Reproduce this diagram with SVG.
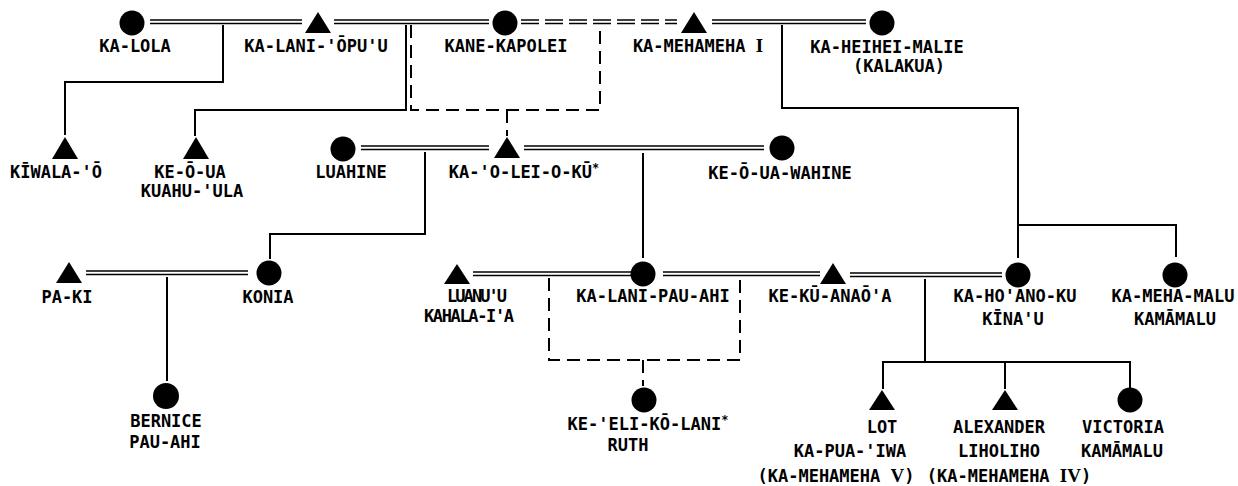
<svg xmlns="http://www.w3.org/2000/svg" width="1238" height="486" viewBox="0 0 1238 486">
<style>
  .t { font-family: "DejaVu Sans Mono", "Liberation Mono", monospace; font-weight: bold; font-size: 17px; fill: #000; text-anchor: middle; }
  .s { font-family: "Liberation Serif", serif; font-weight: bold; font-size: 19px; }
  .sup { font-size: 12px; }
  .sym { fill: #000; }
  .ln { stroke: #000; stroke-width: 2; fill: none; }
  .dl { stroke: #000; stroke-width: 1.6; fill: none; }
  .dd { stroke: #000; stroke-width: 1.6; fill: none; stroke-dasharray: 18 6; }
  .dash { stroke: #000; stroke-width: 2; fill: none; stroke-dasharray: 13 7; }
</style>
<rect width="1238" height="486" fill="#fff"/>
<g id="connectors">
  <path class="dl" d="M150 20H302M150 23.5H302"/>
  <path class="dl" d="M334 20H489M334 23.5H489"/>
  <path class="dd" d="M521 20H677M521 23.5H677"/>
  <path class="dl" d="M712 20H866M712 23.5H866"/>
  <path class="ln" d="M223 25V82H65V135"/>
  <path class="ln" d="M406 25V110H195V136"/>
  <path class="dash" d="M411 25V110H600V25"/>
  <path class="dash" d="M507 110V136"/>
  <path class="ln" d="M782 25V108H1018V258"/>
  <path class="ln" d="M1018 225H1176V257"/>
  <path class="dl" d="M361 146H489M361 149.5H489"/>
  <path class="dl" d="M524 146H764M524 149.5H764"/>
  <path class="ln" d="M425 152V234H270V259"/>
  <path class="ln" d="M643 153V258"/>
  <path class="dl" d="M86 271H248M86 274.5H248"/>
  <path class="dl" d="M473 272H632M473 275.5H632"/>
  <path class="dl" d="M663 272H820M663 275.5H820"/>
  <path class="dl" d="M850 273H1002M850 276.5H1002"/>
  <path class="ln" d="M167 277V381"/>
  <path class="dash" d="M549 278V360H740V278"/>
  <path class="dash" d="M643 360V386"/>
  <path class="ln" d="M925 279V362"/>
  <path class="ln" d="M883 389V362H1130V388"/>
  <path class="ln" d="M1005 362V389"/>
</g>
<g id="n-kalola">
  <circle class="sym" cx="132" cy="23" r="12.5"/>
  <text class="t" x="135" y="52">KA-LOLA</text>
</g>
<g id="n-kalaniopuu">
  <polygon class="sym" points="318,12 305,33 331,33"/>
  <text class="t" x="316" y="52">KA-LANI-'ŌPU'U</text>
</g>
<g id="n-kanekapolei">
  <circle class="sym" cx="505" cy="23" r="12.5"/>
  <text class="t" x="506" y="52">KANE-KAPOLEI</text>
</g>
<g id="n-kamehameha1">
  <polygon class="sym" points="694,12 681,33 707,33"/>
  <text class="t" x="698" y="52">KA-MEHAMEHA <tspan class="s">I</tspan></text>
</g>
<g id="n-kaheiheimalie">
  <circle class="sym" cx="882" cy="23" r="12.5"/>
  <text class="t" x="887" y="53">KA-HEIHEI-MALIE</text>
  <text class="t" x="899" y="72">(KALAKUA)</text>
</g>
<g id="n-kiwalao">
  <polygon class="sym" points="65,137 52,159 78,159"/>
  <text class="t" x="56" y="178">KĪWALA-'Ō</text>
</g>
<g id="n-keoua">
  <polygon class="sym" points="196,137 183,159 209,159"/>
  <text class="t" x="190" y="178">KE-Ō-UA</text>
  <text class="t" x="192" y="197">KUAHU-'ULA</text>
</g>
<g id="n-luahine">
  <circle class="sym" cx="343" cy="149" r="12.5"/>
  <text class="t" x="351" y="178">LUAHINE</text>
</g>
<g id="n-kaoleioku">
  <polygon class="sym" points="507,137 494,158 520,158"/>
  <text class="t" x="524" y="178">KA-'O-LEI-O-KŪ<tspan class="sup" dy="-6">*</tspan></text>
</g>
<g id="n-keouawahine">
  <circle class="sym" cx="782" cy="148" r="12.5"/>
  <text class="t" x="780" y="179">KE-Ō-UA-WAHINE</text>
</g>
<g id="n-paki">
  <polygon class="sym" points="69,262 56,283 82,283"/>
  <text class="t" x="67" y="303">PA-KI</text>
</g>
<g id="n-konia">
  <circle class="sym" cx="269" cy="273" r="12.5"/>
  <text class="t" x="268" y="303">KONIA</text>
</g>
<g id="n-bernice">
  <circle class="sym" cx="166" cy="396" r="13"/>
  <text class="t" x="166" y="427">BERNICE</text>
  <text class="t" x="165" y="448">PAU-AHI</text>
</g>
<g id="n-luanuu">
  <polygon class="sym" points="457,264 444,284 470,284"/>
  <text class="t" x="477" y="302" textLength="60" lengthAdjust="spacing">LUANU'U</text>
  <text class="t" x="469" y="322" textLength="90" lengthAdjust="spacing">KAHALA-I'A</text>
</g>
<g id="n-kalanipauahi">
  <circle class="sym" cx="643" cy="274" r="12.5"/>
  <text class="t" x="653" y="302">KA-LANI-PAU-AHI</text>
</g>
<g id="n-kekuanaoa">
  <polygon class="sym" points="833,263 820,284 846,284"/>
  <text class="t" x="830" y="302">KE-KŪ-ANAŌ'A</text>
</g>
<g id="n-kahoanoku">
  <circle class="sym" cx="1018" cy="275" r="12.5"/>
  <text class="t" x="1015" y="302">KA-HO'ANO-KU</text>
  <text class="t" x="1013" y="325">KĪNA'U</text>
</g>
<g id="n-kamehamalu">
  <circle class="sym" cx="1175" cy="275" r="12.5"/>
  <text class="t" x="1173" y="302">KA-MEHA-MALU</text>
  <text class="t" x="1175" y="325">KAMĀMALU</text>
</g>
<g id="n-keelikolani">
  <circle class="sym" cx="644" cy="400" r="12.5"/>
  <text class="t" x="648" y="430">KE-'ELI-KŌ-LANI<tspan class="sup" dy="-6">*</tspan></text>
  <text class="t" x="628" y="451">RUTH</text>
</g>
<g id="n-lot">
  <polygon class="sym" points="882,390 869,410 895,410"/>
  <text class="t" x="882" y="433">LOT</text>
  <text class="t" x="850" y="457">KA-PUA-'IWA</text>
  <text class="t" x="836" y="482">(KA-MEHAMEHA <tspan class="s">V</tspan>)</text>
</g>
<g id="n-alexander">
  <polygon class="sym" points="1005,390 992,410 1018,410"/>
  <text class="t" x="999" y="433">ALEXANDER</text>
  <text class="t" x="999" y="457">LIHOLIHO</text>
  <text class="t" x="1009" y="482">(KA-MEHAMEHA <tspan class="s">IV</tspan>)</text>
</g>
<g id="n-victoria">
  <circle class="sym" cx="1130" cy="400" r="12.5"/>
  <text class="t" x="1123" y="433">VICTORIA</text>
  <text class="t" x="1122" y="457">KAMĀMALU</text>
</g>
</svg>
